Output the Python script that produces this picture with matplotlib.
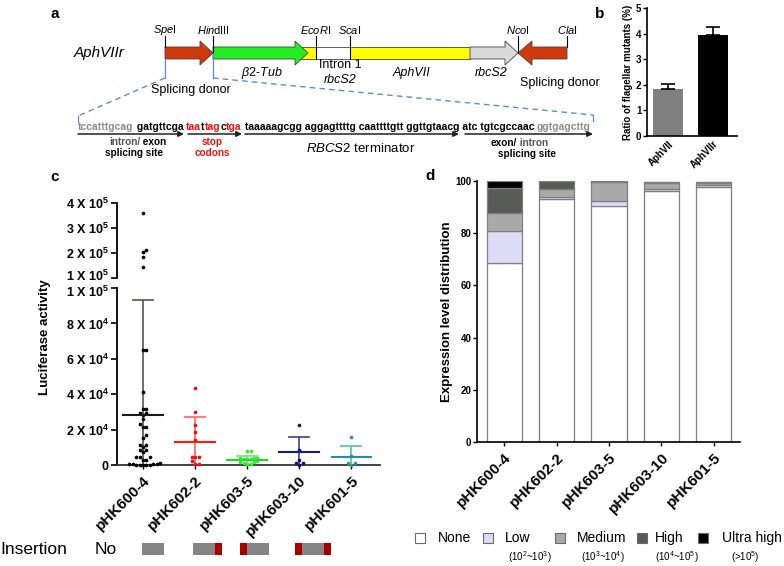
import matplotlib
matplotlib.use('Agg')
import matplotlib.pyplot as plt
from matplotlib.patches import Polygon, Rectangle
import matplotlib.transforms as mtransforms
import numpy as np

plt.rcParams['font.family'] = ['Liberation Sans', 'DejaVu Sans']
plt.rcParams['mathtext.fontset'] = 'custom'
plt.rcParams['mathtext.rm'] = 'Liberation Sans'
plt.rcParams['mathtext.it'] = 'Liberation Sans:italic'
plt.rcParams['mathtext.bf'] = 'Liberation Sans:bold'
plt.rcParams['mathtext.default'] = 'regular'

W, H = 784, 566

####################
# data             #
####################
# panel b
b_labels = ['AphVII', 'AphVIIr']
b_vals = [1.82, 3.93]
b_err = [0.21, 0.34]
b_colors = ['#808080', '#000000']

# panel c
c_names = ['pHK600-4', 'pHK602-2', 'pHK603-5', 'pHK603-10', 'pHK601-5']
pts_600_4 = [3.6e5, 2.12e5, 2.05e5, 1.85e5, 1.45e5,
             6.5e4, 6.5e4, 4.15e4, 3.15e4, 3.15e4, 2.95e4, 2.95e4, 2.8e4, 2.6e4,
             2.3e4, 2.15e4, 2.15e4, 1.7e4, 1.55e4, 1.15e4, 1.15e4, 1.03e4,
             8.5e3, 8.5e3, 7.5e3, 4.7e3, 4.7e3, 4.7e3, 2.8e3, 2.8e3,
             900, 700, 500, 400, 300, 200, 200, 100, 100, 100]
pts_602_2 = [4.35e4, 3.0e4, 2.25e4, 1.85e4, 1.4e4, 4.7e3, 4.7e3, 4.7e3, 2.3e3, 500, 500]
pts_603_5 = [8.0e3, 8.0e3, 4.2e3, 4.0e3, 3.8e3, 3.6e3, 3.4e3, 3.2e3, 2.0e3, 1.7e3,
             1.5e3, 1.2e3, 500, 400]
pts_603_10 = [2.24e4, 8.5e3, 2.8e3, 900, 900, 100]
pts_601_5 = [1.6e4, 5.0e3, 1.3e3, 1.3e3, 100]
c_pts = [pts_600_4, pts_602_2, pts_603_5, pts_603_10, pts_601_5]
c_mean = [2.82e4, 1.32e4, 2.9e3, 7.2e3, 4.5e3]
c_upper = [9.3e4, 2.73e4, 5.3e3, 1.6e4, 1.1e4]
c_colors = ['#000000', '#ee1111', '#33ee33', '#14146e', '#2a9aa0']
c_err_colors = ['#5f665c', '#ff7070', '#80e880', '#50508e', '#60c8a8']
c_mean_colors = ['#1a1a1a', '#ff1a1a', '#22dd22', '#1a1a7a', '#2a8c9c']
insertion = [[], ['g'], ['g', 'r'], ['r', 'g'], ['r', 'g', 'r']]

# panel d
d_names = c_names
d_levels = ['None', 'Low', 'Medium', 'High', 'Ultra high']
d_ranges = ['', '(10$^2$~10$^3$)', '(10$^3$~10$^4$)', '(10$^4$~10$^5$)', '(>10$^5$)']
d_none = [68.7, 93.0, 90.4, 96.3, 97.8]
d_low = [12.1, 1.0, 1.9, 0.6, 0.5]
d_medium = [6.8, 2.9, 7.2, 2.4, 1.0]
d_high = [9.8, 3.1, 0.5, 0.3, 0.3]
d_ultra = [2.6, 0.0, 0.0, 0.0, 0.0]
d_colors = ['#ffffff', '#dcdcf6', '#a9a9a9', '#575a57', '#000000']

fig = plt.figure(figsize=(W / 100, H / 100), dpi=100)


def px_axes(x0, y0, x1, y1):
    return fig.add_axes([x0 / W, 1 - y1 / H, (x1 - x0) / W, (y1 - y0) / H])


def swarm(ax, vals, spacing=3.4):
    # simple beeswarm: offsets in pixels, turned into data units
    tr = ax.transData
    ys = tr.transform(np.column_stack([np.zeros(len(vals)), vals]))[:, 1]
    unit = tr.transform((1, 0))[0] - tr.transform((0, 0))[0]
    placed = []
    offs = np.zeros(len(vals))
    for i in np.argsort(ys):
        k = 0
        done = False
        while not done:
            cands = [0.0] if k == 0 else [k * spacing, -k * spacing]
            for c in cands:
                if all((c - ox) ** 2 + (ys[i] - oy) ** 2 >= spacing ** 2 for ox, oy in placed):
                    placed.append((c, ys[i]))
                    offs[i] = c / unit
                    done = True
                    break
            k += 1
    return offs


# overlay for the schematic
ov = fig.add_axes([0, 0, 1, 1])
ov.set_xlim(0, W)
ov.set_ylim(H, 0)
ov.axis('off')

####################
# panel a          #
####################
ov.text(55, 14, 'a', fontsize=11, fontweight='bold', ha='center', va='center')
ov.text(74, 53, 'AphVIIr', fontsize=11, style='italic', ha='left', va='center')

def arrow_right(x0, x1, xh, col):
    return Polygon([(x0, 47), (xh, 47), (xh, 41), (x1, 53), (xh, 65), (xh, 59), (x0, 59)],
                   closed=True, fc=col, ec='#444444', lw=0.6)

# boxes first, then arrows on top
ov.add_patch(Rectangle((300, 47), 16, 12, fc='#ffff00', ec='#444444', lw=0.6))
ov.add_patch(Rectangle((316, 47), 34, 12, fc='#ffffff', ec='#444444', lw=0.6))
ov.add_patch(Rectangle((350, 47), 120, 12, fc='#ffff00', ec='#444444', lw=0.6))
ov.add_patch(arrow_right(165, 213, 200, '#d03a0a'))
ov.add_patch(arrow_right(213, 308, 295, '#22ee22'))
ov.add_patch(arrow_right(470, 518, 505, '#d9d9d9'))
ov.add_patch(Polygon([(567, 47), (532, 47), (532, 41), (518, 53), (532, 65), (532, 59), (567, 59)],
                     closed=True, fc='#d03a0a', ec='#444444', lw=0.6))

sites = [('$\\mathit{Spe}$I', 165, 47), ('$\\mathit{Hin}$dIII', 213, 53), ('$\\mathit{EcoR}$I', 316, 59),
         ('$\\mathit{Sca}$I', 350, 59), ('$\\mathit{Nco}$I', 518, 53), ('$\\mathit{Cla}$I', 567, 47)]
for lab, x, yb in sites:
    ov.plot([x, x], [36, yb], color='black', lw=0.8)
    ov.text(x, 30, lab, fontsize=8, ha='center', va='center')

ov.text(262, 73, '$\\mathit{\\beta2}$-$\\mathit{Tub}$', fontsize=9, ha='center', va='center')
ov.text(340, 65, 'Intron 1', fontsize=9, ha='center', va='center')
ov.text(340, 80, 'rbcS2', fontsize=9, style='italic', ha='center', va='center')
ov.text(412, 73, 'AphVII', fontsize=9, style='italic', ha='center', va='center')
ov.text(491, 73, 'rbcS2', fontsize=9, style='italic', ha='center', va='center')
ov.text(191, 90, 'Splicing donor', fontsize=9, ha='center', va='center')
ov.text(560, 83, 'Splicing donor', fontsize=9, ha='center', va='center')

blue = '#5b8fd0'
ov.plot([165, 165], [59, 78], color=blue, lw=0.9)
ov.plot([213, 213], [53, 78], color=blue, lw=0.9)
ov.plot([165, 78], [78, 116], color=blue, lw=1.0, ls=(0, (4, 3)))
ov.plot([213, 593], [78, 115], color=blue, lw=1.0, ls=(0, (4, 3)))
ov.plot([78, 78], [116, 122], color=blue, lw=0.9)
ov.plot([593, 593], [115, 121], color=blue, lw=0.9)

# sequence, written piece after piece so the words never collide
seq_fs = 7.45
gray_t = '#8c8c8c'
red_t = '#ee1111'
seq = [('tccatttgcag', gray_t), (' gatgttcga ', 'black'),
       ('taa', red_t), ('t', 'black'), ('tag', red_t), ('c', 'black'), ('tga', red_t),
       (' taaaaagcgg aggagttttg caattttgtt ggttgtaacg atc tgtcgccaac ', 'black'),
       ('ggtgagcttg', gray_t)]
prev = ov.text(78, 127, seq[0][0], color=seq[0][1], fontsize=seq_fs,
               fontweight='bold', ha='left', va='center')
for s, col in seq[1:]:
    prev = ov.annotate(s, xy=(1, 0.5), xycoords=prev, color=col, fontsize=seq_fs,
                       fontweight='bold', ha='left', va='center')

for xa, xb in [(78, 184), (188, 242), (245, 459), (465, 593)]:
    ov.annotate('', xy=(xb, 134), xytext=(xa, 134),
                arrowprops=dict(arrowstyle='-|>', color='#222222', lw=1.1, mutation_scale=8,
                                shrinkA=0, shrinkB=0))

t1 = ov.text(109, 142, 'intron/', color='#555555', fontsize=7.2, fontweight='bold', ha='left', va='center')
ov.annotate(' exon', xy=(1, 0.5), xycoords=t1, fontsize=7.2, fontweight='bold', ha='left', va='center')
ov.text(134, 153, 'splicing site', fontsize=7.2, fontweight='bold', ha='center', va='center')
ov.text(212, 142, 'stop', color=red_t, fontsize=7.2, fontweight='bold', ha='center', va='center')
ov.text(212, 153, 'codons', color=red_t, fontsize=7.2, fontweight='bold', ha='center', va='center')
ov.text(361, 148, '$\\mathit{RBCS2}$ terminator', fontsize=9.5, ha='center', va='center')
t2 = ov.text(491, 143, 'exon/', fontsize=7.2, fontweight='bold', ha='left', va='center')
ov.annotate(' intron', xy=(1, 0.5), xycoords=t2, color='#555555', fontsize=7.2, fontweight='bold',
            ha='left', va='center')
ov.text(527, 154, 'splicing site', fontsize=7.2, fontweight='bold', ha='center', va='center')

####################
# panel b          #
####################
axb = px_axes(647, 8, 737, 136)
xb = np.arange(len(b_vals))
axb.bar(xb, b_vals, width=0.67, color=b_colors)
axb.errorbar(xb, b_vals, yerr=[[0, 0], b_err], fmt='none', ecolor='black', elinewidth=1.2,
             capsize=5, capthick=1.2)
axb.set_xlim(-0.47, 1.53)
axb.set_ylim(0, 5)
axb.set_yticks(range(6))
axb.set_xticks(xb)
axb.set_xticklabels(b_labels, rotation=45, ha='right', rotation_mode='anchor',
                    fontsize=7, fontweight='bold')
axb.tick_params(axis='y', labelsize=7, length=3, width=1, pad=1)
axb.tick_params(axis='x', length=0, pad=2)
for l in axb.get_yticklabels():
    l.set_fontweight('bold')
axb.spines[['top', 'right']].set_visible(False)
axb.spines[['left', 'bottom']].set_linewidth(1.2)
axb.set_ylabel('Ratio of flagellar mutants (%)', fontsize=7, fontweight='bold', labelpad=2)
fig.text(600 / W, 1 - 14 / H, 'b', fontsize=11, fontweight='bold', ha='center', va='center')

####################
# panel c          #
####################
ax_hi = px_axes(117, 203, 380, 278)
ax_lo = px_axes(117, 288, 380, 465)
for ax in (ax_hi, ax_lo):
    ax.set_xlim(-0.5, 4.55)
ax_hi.set_ylim(1e5, 4e5)
ax_lo.set_ylim(0, 1e5)

for i, vals in enumerate(c_pts):
    vals = np.array(vals)
    lo = vals[vals <= 1e5]
    hi = vals[vals > 1e5]
    if len(lo):
        ax_lo.scatter(i + swarm(ax_lo, lo), lo, s=7, color=c_colors[i], lw=0, zorder=3, clip_on=False)
    if len(hi):
        ax_hi.scatter(i + swarm(ax_hi, hi), hi, s=7, color=c_colors[i], lw=0, zorder=3)
    ax_lo.plot([i, i], [0, c_upper[i]], color=c_err_colors[i], lw=1.3, zorder=2)
    ax_lo.plot([i - 0.19, i + 0.19], [c_upper[i]] * 2, color=c_err_colors[i], lw=1.3, zorder=2)
    ax_lo.plot([i - 0.38, i + 0.38], [c_mean[i]] * 2, color=c_mean_colors[i], lw=1.5, zorder=4)

ax_hi.set_yticks([1e5, 2e5, 3e5, 4e5])
ax_hi.set_yticklabels(['%d X 10$^5$' % k for k in range(1, 5)])
ax_lo.set_yticks([0, 2e4, 4e4, 6e4, 8e4, 1e5])
ax_lo.set_yticklabels(['0', '2 X 10$^4$', '4 X 10$^4$', '6 X 10$^4$', '8 X 10$^4$', '1 X 10$^5$'])
ax_hi.set_xticks([])
ax_hi.spines[['top', 'right', 'bottom']].set_visible(False)
ax_lo.spines[['top', 'right']].set_visible(False)
for ax in (ax_hi, ax_lo):
    ax.tick_params(axis='y', labelsize=9, length=4, width=1.2, pad=2)
    ax.spines['left'].set_linewidth(1.3)
    for l in ax.get_yticklabels():
        l.set_fontweight('bold')
# keep the two "1 X 10^5" labels at the break apart
lab_hi = ax_hi.get_yticklabels()[0]
lab_hi.set_transform(lab_hi.get_transform() + mtransforms.ScaledTranslation(0, 2 / 72, fig.dpi_scale_trans))
lab_lo = ax_lo.get_yticklabels()[-1]
lab_lo.set_transform(lab_lo.get_transform() + mtransforms.ScaledTranslation(0, -2 / 72, fig.dpi_scale_trans))
ax_lo.spines['bottom'].set_linewidth(1.3)
ax_lo.spines['bottom'].set_color('#333333')
ax_lo.set_xticks(range(len(c_names)))
ax_lo.set_xticklabels(c_names, rotation=45, ha='right', rotation_mode='anchor',
                      fontsize=11, fontweight='bold')
ax_lo.tick_params(axis='x', length=3, width=1, pad=3)
fig.text(45 / W, 1 - 337 / H, 'Luciferase activity', rotation=90, fontsize=9.5,
         fontweight='bold', ha='center', va='center')
fig.text(55 / W, 1 - 177 / H, 'c', fontsize=11, fontweight='bold', ha='center', va='center')

# insertion row
ov.text(0, 550, 'Insertion', fontsize=12.5, ha='left', va='center')
ov.text(95, 550, 'No', fontsize=12.5, ha='left', va='center')
ins_start = [None, 142, 193, 240, 295]
seg_w = {'g': 22, 'r': 7}
seg_c = {'g': '#858585', 'r': '#a80000'}
for parts, x in zip(insertion, ins_start):
    for p in parts:
        ov.add_patch(Rectangle((x, 543), seg_w[p], 12, fc=seg_c[p], ec='none'))
        x += seg_w[p]

####################
# panel d          #
####################
axd = px_axes(477, 181, 740, 442)
xd = np.arange(len(d_names))
bottom = np.zeros(len(d_names))
for vals, col in zip([d_none, d_low, d_medium, d_high, d_ultra], d_colors):
    axd.bar(xd, vals, bottom=bottom, width=0.67, color=col, edgecolor='#7f7f7f', lw=0.9)
    bottom += np.array(vals)
axd.set_xlim(-0.52, 4.5)
axd.set_ylim(0, 100)
axd.set_yticks(range(0, 101, 20))
axd.tick_params(axis='y', labelsize=7, length=3, width=1, pad=1)
for l in axd.get_yticklabels():
    l.set_fontweight('bold')
axd.set_xticks(xd)
axd.set_xticklabels(d_names, rotation=45, ha='right', rotation_mode='anchor',
                    fontsize=11, fontweight='bold')
axd.tick_params(axis='x', length=3, width=1, pad=3)
axd.spines[['top', 'right']].set_visible(False)
axd.spines[['left', 'bottom']].set_linewidth(1.2)
axd.set_ylabel('Expression level distribution', fontsize=9.5, fontweight='bold', labelpad=2)
fig.text(430 / W, 1 - 176 / H, 'd', fontsize=11, fontweight='bold', ha='center', va='center')

# legend for d
leg_sq = [415, 483, 555, 637, 698]
leg_tx = [438, 505, 577, 655, 722]
leg_sub = [None, 530, 603, 677, 745]
for k in range(len(d_levels)):
    ov.add_patch(Rectangle((leg_sq[k], 533), 10, 10, fc=d_colors[k], ec='#6a6a6a', lw=0.8))
    ov.text(leg_tx[k], 538, d_levels[k], fontsize=10, ha='left', va='center')
    if leg_sub[k]:
        ov.text(leg_sub[k], 557, d_ranges[k], fontsize=7, ha='center', va='center')

fig.savefig('out.png', dpi=100)
